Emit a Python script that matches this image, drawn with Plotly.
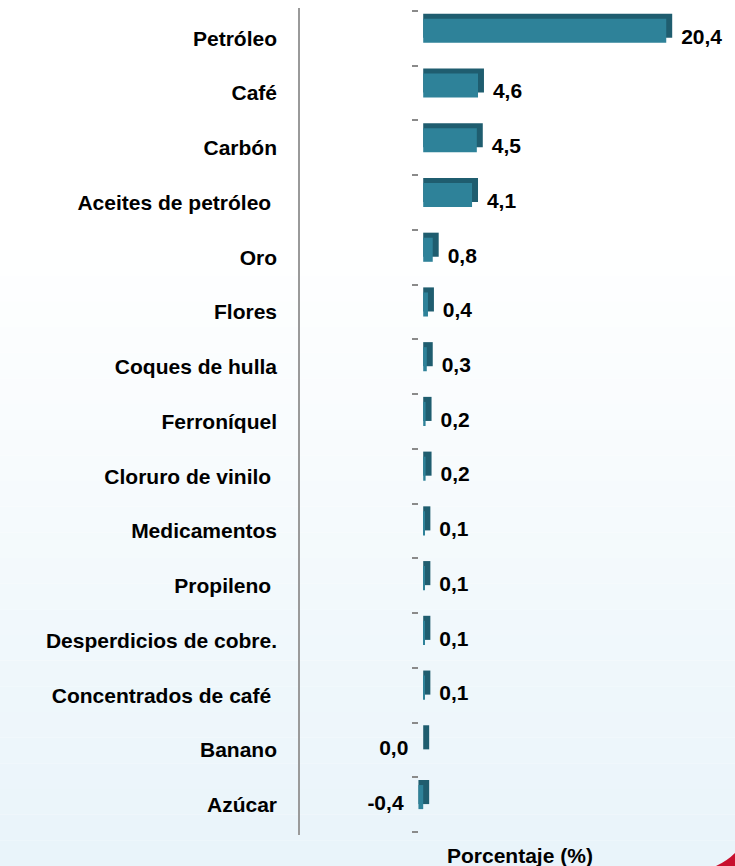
import plotly.graph_objects as go

productos = [
    "Petróleo",
    "Café",
    "Carbón",
    "Aceites de petróleo\u00a0",
    "Oro",
    "Flores",
    "Coques de hulla",
    "Ferroníquel",
    "Cloruro de vinilo\u00a0",
    "Medicamentos",
    "Propileno\u00a0",
    "Desperdicios de cobre.",
    "Concentrados de café\u00a0",
    "Banano",
    "Azúcar",
]
variacion = [20.4, 4.6, 4.5, 4.1, 0.8, 0.4, 0.3, 0.2, 0.2, 0.1, 0.1, 0.1, 0.1, 0.0, -0.4]
etiquetas = [f"{v:.1f}".replace(".", ",") for v in variacion]

FUENTE = "Liberation Sans, Arial, sans-serif"
FRENTE = "#2e8299"
LADO = "#1f5d6f"
PROF = 0.5  # profundidad del efecto 3D, en unidades del eje x
X_MIN, X_MAX = -2.2, 25.5

# geometria de la pagina (pixeles)
W, H = 735, 866
ML, MR, MT, MB = 397, 8, 11, 34
PW, PH = W - ML - MR, H - MT - MB


def px_x(p):
    return (p - ML) / PW


def px_y(p):
    return (H - MB - p) / PH


# cara lateral/superior (se dibuja primero, desplazada arriba y a la derecha)
lado = go.Bar(
    y=productos,
    x=[abs(v) + PROF for v in variacion],
    base=[min(v, 0) for v in variacion],
    orientation="h",
    width=0.44,
    offset=0.01,
    marker=dict(color=LADO, line=dict(width=0)),
    hoverinfo="skip",
)
frente = go.Bar(
    y=productos,
    x=variacion,
    orientation="h",
    width=0.44,
    offset=-0.082,
    marker=dict(color=FRENTE, line=dict(width=0)),
    hovertemplate="%{y}: %{x}<extra></extra>",
)
textos = go.Scatter(
    y=productos,
    x=[v + PROF + 0.75 if v > 0 else min(v, 0) - 1.25 for v in variacion],
    mode="text",
    text=etiquetas,
    textposition=["middle right" if v > 0 else "middle left" for v in variacion],
    textfont=dict(family=FUENTE, size=21, color="black", weight="bold"),
    cliponaxis=False,
    hoverinfo="skip",
)

fig = go.Figure([lado, frente, textos])

# fondo degradado claro en la parte baja
formas = []
n = 24
for i in range(n):
    y0 = 250 + i * (H - 250) / n
    y1 = 250 + (i + 1) * (H - 250) / n
    t = (i + 1) / n
    r = round(255 - t * 22)
    g = round(255 - t * 11)
    b = round(255 - t * 5)
    formas.append(dict(
        type="rect", xref="paper", yref="paper",
        x0=px_x(0), x1=px_x(W), y0=px_y(y1), y1=px_y(y0),
        fillcolor=f"rgb({r},{g},{b})", line=dict(width=0), layer="below",
    ))
# linea vertical decorativa
formas.append(dict(
    type="line", xref="paper", yref="paper",
    x0=px_x(299), x1=px_x(299), y0=px_y(835), y1=px_y(8),
    line=dict(color="#9a9a9a", width=2), layer="below",
))
# detalle rojo en la esquina
formas.append(dict(
    type="path", xref="paper", yref="paper",
    path=(f"M {px_x(716)},{px_y(866)} Q {px_x(727)},{px_y(861)} {px_x(735)},{px_y(853)} "
          f"L {px_x(735)},{px_y(866)} Z"),
    fillcolor="#c8102e", line=dict(width=0), layer="above",
))

fig.update_layout(
    width=W,
    height=H,
    margin=dict(l=ML, r=MR, t=MT, b=MB, autoexpand=False),
    paper_bgcolor="white",
    plot_bgcolor="rgba(0,0,0,0)",
    barmode="overlay",
    showlegend=False,
    shapes=formas,
    annotations=[dict(
        text="Porcentaje (%)", xref="paper", yref="paper",
        x=px_x(520), y=px_y(855), xanchor="center", yanchor="middle",
        showarrow=False,
        font=dict(family=FUENTE, size=21, color="black", weight="bold"),
    )],
)
fig.update_xaxes(
    range=[X_MIN, X_MAX], visible=False, showgrid=False, zeroline=False,
)
fig.update_yaxes(
    categoryorder="array",
    categoryarray=productos[::-1],
    range=[-0.5, len(productos) - 0.5],
    anchor="free",
    position=px_x(418),
    tickson="boundaries",
    ticks="outside",
    ticklen=6,
    tickwidth=2,
    tickcolor="#8a8a8a",
    ticklabelstandoff=141,
    tickfont=dict(family=FUENTE, size=21, color="black", weight="bold"),
    showline=False,
    showgrid=False,
    zeroline=False,
    automargin=False,
)

fig.write_html(
    "out.html",
    config={"displayModeBar": False},
    post_script="document.body.style.margin='0px';",
)
